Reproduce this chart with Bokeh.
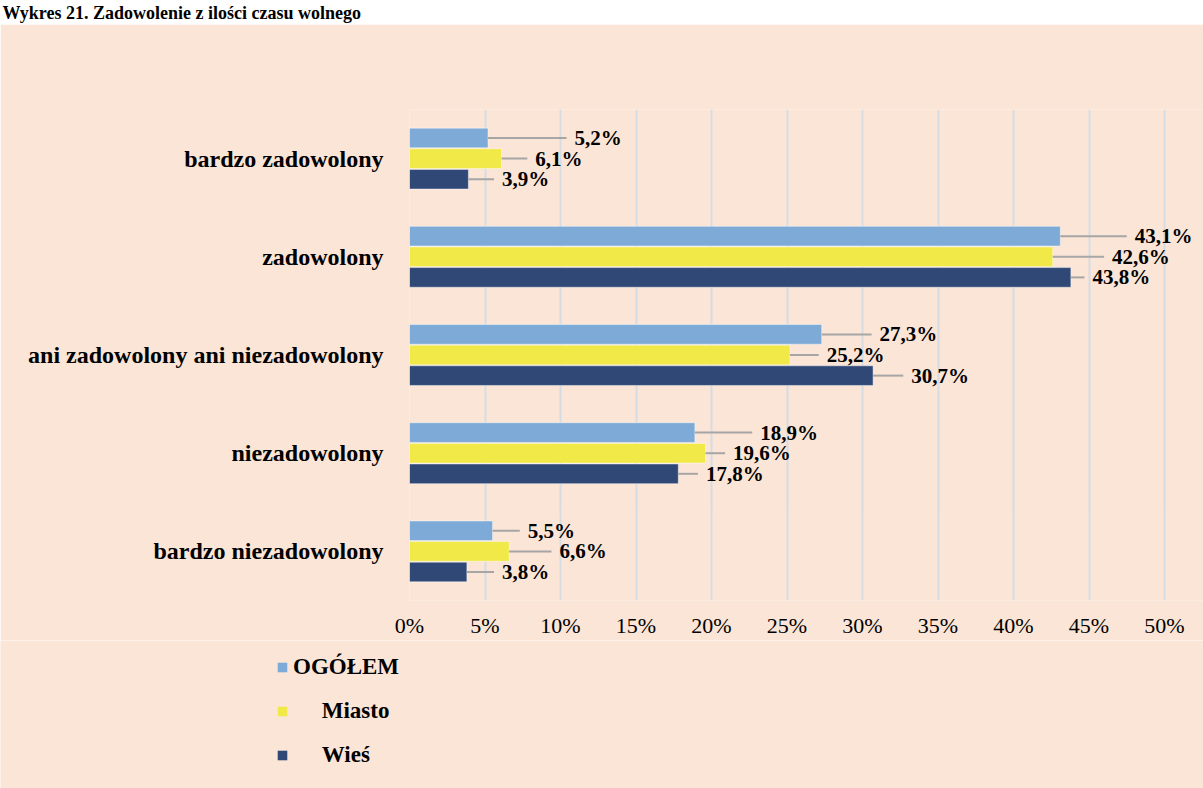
from bokeh.plotting import figure
from bokeh.models import (ColumnDataSource, FactorRange, Range1d, FixedTicker, Legend, LegendItem,
                          CustomJSTickFormatter)
from bokeh.transform import dodge
from bokeh.core.properties import value
from bokeh.embed import file_html
from bokeh.resources import INLINE

# ---- data ----
categories = ["bardzo zadowolony", "zadowolony", "ani zadowolony ani niezadowolony",
              "niezadowolony", "bardzo niezadowolony"]
series_names = ["OGÓŁEM", "Miasto", "Wieś"]
ogolem = [5.2, 43.1, 27.3, 18.9, 5.5]
miasto = [6.1, 42.6, 25.2, 19.6, 6.6]
wies = [3.9, 43.8, 30.7, 17.8, 3.8]
x_ticks = [0, 5, 10, 15, 20, 25, 30, 35, 40, 45, 50]
title_text = "Wykres 21. Zadowolenie z ilości czasu wolnego"

# ---- styling (leader line lengths in axis units, offsets, colours) ----
leader_ogolem = [5.2, 4.4, 3.3, 3.8, 1.8]
leader_miasto = [1.7, 3.4, 1.9, 1.3, 2.8]
leader_wies = [1.7, 0.9, 2.0, 1.3, 1.8]
colors = ["#7DAAD6", "#F0E947", "#2F4876"]
offsets = [0.21, 0.0, -0.21]
BG = "#FBE5D6"
SERIF = value("Liberation Serif")

def fmt(v):
    return f"{v:.1f}%".replace(".", ",")

W = 1203
TOP_H, MAIN_H, LEG_H = 24, 616, 148

# ---- title strip ----
t = figure(width=W, height=TOP_H, output_backend="svg", toolbar_location=None,
           x_range=Range1d(0, W), y_range=Range1d(0, TOP_H),
           min_border_left=0, min_border_right=0, min_border_top=0, min_border_bottom=0)
t.background_fill_color = "#FFFFFF"
t.border_fill_color = "#FFFFFF"
t.outline_line_color = None
t.axis.visible = False
t.grid.grid_line_color = None
t.text(x=[2], y=[TOP_H / 2], text=[title_text], text_font=SERIF, text_font_style="bold",
       text_font_size="18px", text_color="#000000", text_baseline="middle")

# ---- main chart ----
p = figure(width=W, height=MAIN_H, output_backend="svg", toolbar_location=None,
           y_range=FactorRange(factors=categories[::-1]),
           x_range=Range1d(0, (W - 409) / 15.1),
           min_border_left=409, min_border_right=0, min_border_top=109 - TOP_H, min_border_bottom=39)
p.background_fill_color = BG
p.border_fill_color = BG
p.outline_line_color = None

renderers = []
for vals, leads, col, off in zip([ogolem, miasto, wies],
                                 [leader_ogolem, leader_miasto, leader_wies],
                                 colors, offsets):
    src = ColumnDataSource(dict(cat=categories, val=vals,
                                end=[v + l for v, l in zip(vals, leads)],
                                lab=[fmt(v) for v in vals]))
    r = p.hbar(y=dodge("cat", off, range=p.y_range), right="val", left=0, height=0.2,
               source=src, fill_color=col, line_color="#FFFFFF", line_alpha=0.45, line_width=1)
    renderers.append(r)
    p.segment(x0="val", x1="end", y0=dodge("cat", off, range=p.y_range),
              y1=dodge("cat", off, range=p.y_range), source=src,
              line_color="#A6A6A6", line_width=2)
    p.text(x="end", y=dodge("cat", off, range=p.y_range), text="lab", source=src,
           x_offset=8, text_baseline="middle", text_align="left",
           text_font=SERIF, text_font_style="bold", text_font_size="21px", text_color="#000000")

p.xaxis.ticker = FixedTicker(ticks=x_ticks)
p.xaxis.formatter = CustomJSTickFormatter(code="return tick + '%';")
p.xaxis.axis_line_color = None
p.xaxis.major_tick_line_color = None
p.xaxis.minor_tick_line_color = None
p.xaxis.major_label_text_font = "Liberation Serif"
p.xaxis.major_label_text_font_size = "22px"
p.xaxis.major_label_text_color = "#000000"
p.xaxis.major_label_standoff = 6

p.yaxis.axis_line_color = None
p.yaxis.major_tick_line_color = None
p.yaxis.major_label_text_font = "Liberation Serif"
p.yaxis.major_label_text_font_style = "bold"
p.yaxis.major_label_text_font_size = "24px"
p.yaxis.major_label_text_color = "#000000"
p.yaxis.major_label_standoff = 20

p.xgrid.grid_line_color = "#D6DCE4"
p.xgrid.grid_line_width = 2
p.ygrid.grid_line_color = None

# ---- legend strip ----
q = figure(width=W, height=LEG_H, output_backend="svg", toolbar_location=None,
           x_range=Range1d(0, 1), y_range=Range1d(0, 1),
           min_border_left=0, min_border_right=0, min_border_top=0, min_border_bottom=0)
q.background_fill_color = BG
q.border_fill_color = BG
q.outline_line_color = None
q.axis.visible = False
q.grid.grid_line_color = None
dummies = [q.hbar(y=[-10], right=[1], height=1, fill_color=c, line_color=None) for c in colors]

pad = "\u00a0" * 5
legend = Legend(items=[LegendItem(label=series_names[0], renderers=[dummies[0]]),
                       LegendItem(label=pad + series_names[1], renderers=[dummies[1]]),
                       LegendItem(label=pad + series_names[2], renderers=[dummies[2]])],
                location=(276, 20), orientation="vertical",
                glyph_width=12, glyph_height=12, label_height=12, spacing=18,
                label_standoff=5, padding=0, margin=0,
                background_fill_alpha=0, border_line_color=None,
                label_text_font="Liberation Serif", label_text_font_style="bold",
                label_text_font_size="23px", label_text_color="#000000")
q.add_layout(legend, "center")

open("out.html", "w").write(file_html([t, p, q], INLINE))
